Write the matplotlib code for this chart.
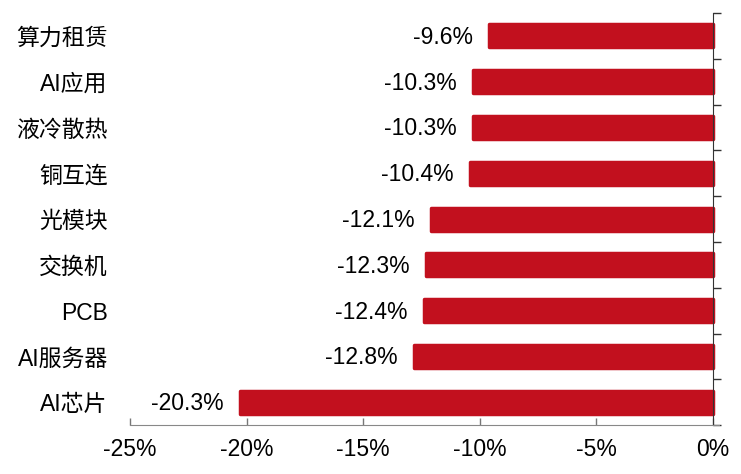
import numpy as np
import matplotlib
matplotlib.use('Agg')
import matplotlib.pyplot as plt
from matplotlib.ticker import FixedLocator

plt.rcParams['font.family'] = ['Liberation Sans', 'Noto Sans CJK SC']

# data
categories = ['算力租赁', 'AI应用', '液冷散热', '铜互连', '光模块',
              '交换机', 'PCB', 'AI服务器', 'AI芯片']
values = [-9.6, -10.3, -10.3, -10.4, -12.1, -12.3, -12.4, -12.8, -20.3]
xticks = [-25, -20, -15, -10, -5, 0]

BAR_COLOR = '#C2101E'
FS = 16.5

fig = plt.figure(figsize=(7.41, 4.74), dpi=100)
ax = fig.add_axes([0.1754, 0.103, 0.795, 0.8696])

ypos = np.arange(len(categories))
ax.barh(ypos, values, height=0.50, color=BAR_COLOR, edgecolor=BAR_COLOR,
        linewidth=2.5, joinstyle='round', zorder=2)

for y, v in zip(ypos, values):
    ax.text(v - 0.7, y + 0.03, f'{v:.1f}%', ha='right', va='center',
            fontsize=FS, color='black')

ax.set_xlim(-25, 0.27)
ax.set_ylim(len(categories) - 0.5, -0.5)

# x axis
ax.set_xticks(xticks)
ax.set_xticklabels([f'{t}%' for t in xticks])
ax.tick_params(axis='x', direction='in', length=5, color='#777777',
               pad=9, width=1, labelsize=FS)

# y axis: labels on the left, boundary ticks on the zero line
ax.set_yticks(ypos)
ax.set_yticklabels(categories)
ax.yaxis.set_minor_locator(FixedLocator(np.arange(-0.5, len(categories), 1.0)))
ax.tick_params(axis='y', which='major', left=True, right=False,
               length=0, pad=16, labelsize=FS)
ax.tick_params(axis='y', which='minor', left=False, right=True,
               direction='out', length=6, color='#333333', width=1)

for side in ('top', 'left'):
    ax.spines[side].set_visible(False)
ax.spines['right'].set_position(('data', 0))
ax.spines['right'].set_color('#333333')
ax.spines['bottom'].set_color('#888888')

fig.savefig('out.png', dpi=100)
